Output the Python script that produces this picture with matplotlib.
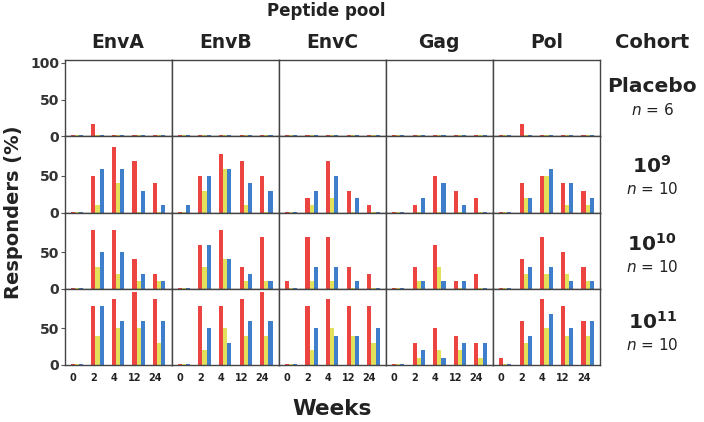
import matplotlib
matplotlib.use("Agg")
import matplotlib.pyplot as plt
import numpy as np

pools = ["EnvA", "EnvB", "EnvC", "Gag", "Pol"]
weeks = ["0", "2", "4", "12", "24"]
cohorts = ["Placebo", r"$\mathbf{10^{9}}$", r"$\mathbf{10^{10}}$", r"$\mathbf{10^{11}}$"]
cohort_n = [6, 10, 10, 10]

# responders (%) per pool (rows) and week (columns)
placebo_red = [[0, 17, 0, 0, 0], [0, 0, 0, 0, 0], [0, 0, 0, 0, 0], [0, 0, 0, 0, 0], [0, 17, 0, 0, 0]]
placebo_yellow = [[0, 0, 0, 0, 0]] * 5
placebo_blue = [[0, 0, 0, 0, 0]] * 5

e9_red = [[0, 50, 90, 70, 40], [0, 50, 80, 70, 50], [0, 20, 70, 30, 10], [0, 10, 50, 30, 20], [0, 40, 50, 40, 30]]
e9_yellow = [[0, 10, 40, 0, 0], [0, 30, 60, 10, 0], [0, 10, 20, 0, 0], [0, 0, 0, 0, 0], [0, 20, 50, 10, 10]]
e9_blue = [[0, 60, 60, 30, 10], [10, 50, 60, 40, 30], [0, 30, 50, 20, 0], [0, 20, 40, 10, 0], [0, 20, 60, 40, 20]]

e10_red = [[0, 80, 80, 40, 20], [0, 60, 80, 30, 70], [10, 70, 70, 30, 20], [0, 30, 60, 10, 20], [0, 40, 70, 50, 30]]
e10_yellow = [[0, 30, 20, 10, 10], [0, 30, 40, 10, 10], [0, 10, 10, 0, 0], [0, 10, 30, 0, 0], [0, 20, 20, 20, 10]]
e10_blue = [[0, 50, 50, 20, 10], [0, 60, 40, 20, 10], [0, 30, 30, 10, 0], [0, 10, 10, 10, 0], [0, 30, 30, 10, 10]]

e11_red = [[0, 80, 90, 100, 90], [0, 80, 80, 90, 100], [0, 80, 90, 80, 80], [0, 30, 50, 40, 30], [10, 60, 90, 80, 60]]
e11_yellow = [[0, 40, 50, 50, 30], [0, 20, 50, 40, 40], [0, 20, 50, 40, 30], [0, 10, 20, 20, 10], [0, 30, 50, 40, 40]]
e11_blue = [[0, 80, 60, 60, 60], [0, 50, 30, 60, 60], [0, 50, 40, 40, 50], [0, 20, 10, 30, 30], [0, 40, 70, 50, 60]]

rows = [
    (placebo_red, placebo_yellow, placebo_blue),
    (e9_red, e9_yellow, e9_blue),
    (e10_red, e10_yellow, e10_blue),
    (e11_red, e11_yellow, e11_blue),
]
colors = ["#ec4440", "#e3e15c", "#3f7ecb"]

fig, axes = plt.subplots(4, 5, figsize=(7.04, 4.22), dpi=100, sharex=True)
fig.subplots_adjust(left=64.5 / 704, right=600 / 704, top=1 - 60 / 422, bottom=1 - 365 / 422,
                    hspace=0, wspace=0)

x = np.arange(len(weeks))
w = 0.2
for r, series in enumerate(rows):
    for c in range(len(pools)):
        ax = axes[r, c]
        for k, data in enumerate(series):
            vals = np.asarray(data[c], dtype=float)
            # zero values show as thin stubs on the baseline
            ax.bar(x + (k - 1) * w, np.maximum(vals, 1.3), w, color=colors[k], linewidth=0)
        ax.set_ylim(0, 104)
        ax.set_xlim(-0.6, 4.6)
        for s in ax.spines.values():
            s.set_color("#444444")
            s.set_linewidth(1.0)
        ax.tick_params(axis="x", length=0, labelsize=7, pad=6)
        if c == 0:
            ax.set_yticks([0, 50, 100] if r == 0 else [0, 50])
            ax.tick_params(axis="y", length=3, color="#555555", labelsize=10,
                           labelcolor="#333333", pad=1)
            for t in ax.get_yticklabels():
                t.set_fontweight("bold")
        else:
            ax.set_yticks([])
        if r == 3:
            ax.set_xticks(x - 0.2)
            ax.set_xticklabels(weeks, fontweight="bold", color="#222222")
        if r == 0:
            ax.set_title(pools[c], fontsize=13.5, fontweight="bold", color="#222222", pad=9)

fig.text(326 / 704, 1 - 11 / 422, "Peptide pool", ha="center", va="center",
         fontsize=12, fontweight="bold", color="#222222")
fig.text(652 / 704, 1 - 43 / 422, "Cohort", ha="center", va="center",
         fontsize=14, fontweight="bold", color="#222222")
label_y = [87, 166, 244, 322]
for r in range(4):
    fig.text(652 / 704, 1 - label_y[r] / 422, cohorts[r], ha="center", va="center",
             fontsize=14.5, fontweight="bold", color="#222222")
    fig.text(652 / 704, 1 - (label_y[r] + 23) / 422, r"$n$ = %d" % cohort_n[r],
             ha="center", va="center", fontsize=11, color="#222222")

fig.text(14 / 704, 1 - 212 / 422, "Responders (%)", rotation=90, ha="center", va="center",
         fontsize=14, fontweight="bold", color="#222222")
fig.text(332 / 704, 1 - 409 / 422, "Weeks", ha="center", va="center",
         fontsize=15.5, fontweight="bold", color="#222222")

fig.savefig("out.png", dpi=100)
